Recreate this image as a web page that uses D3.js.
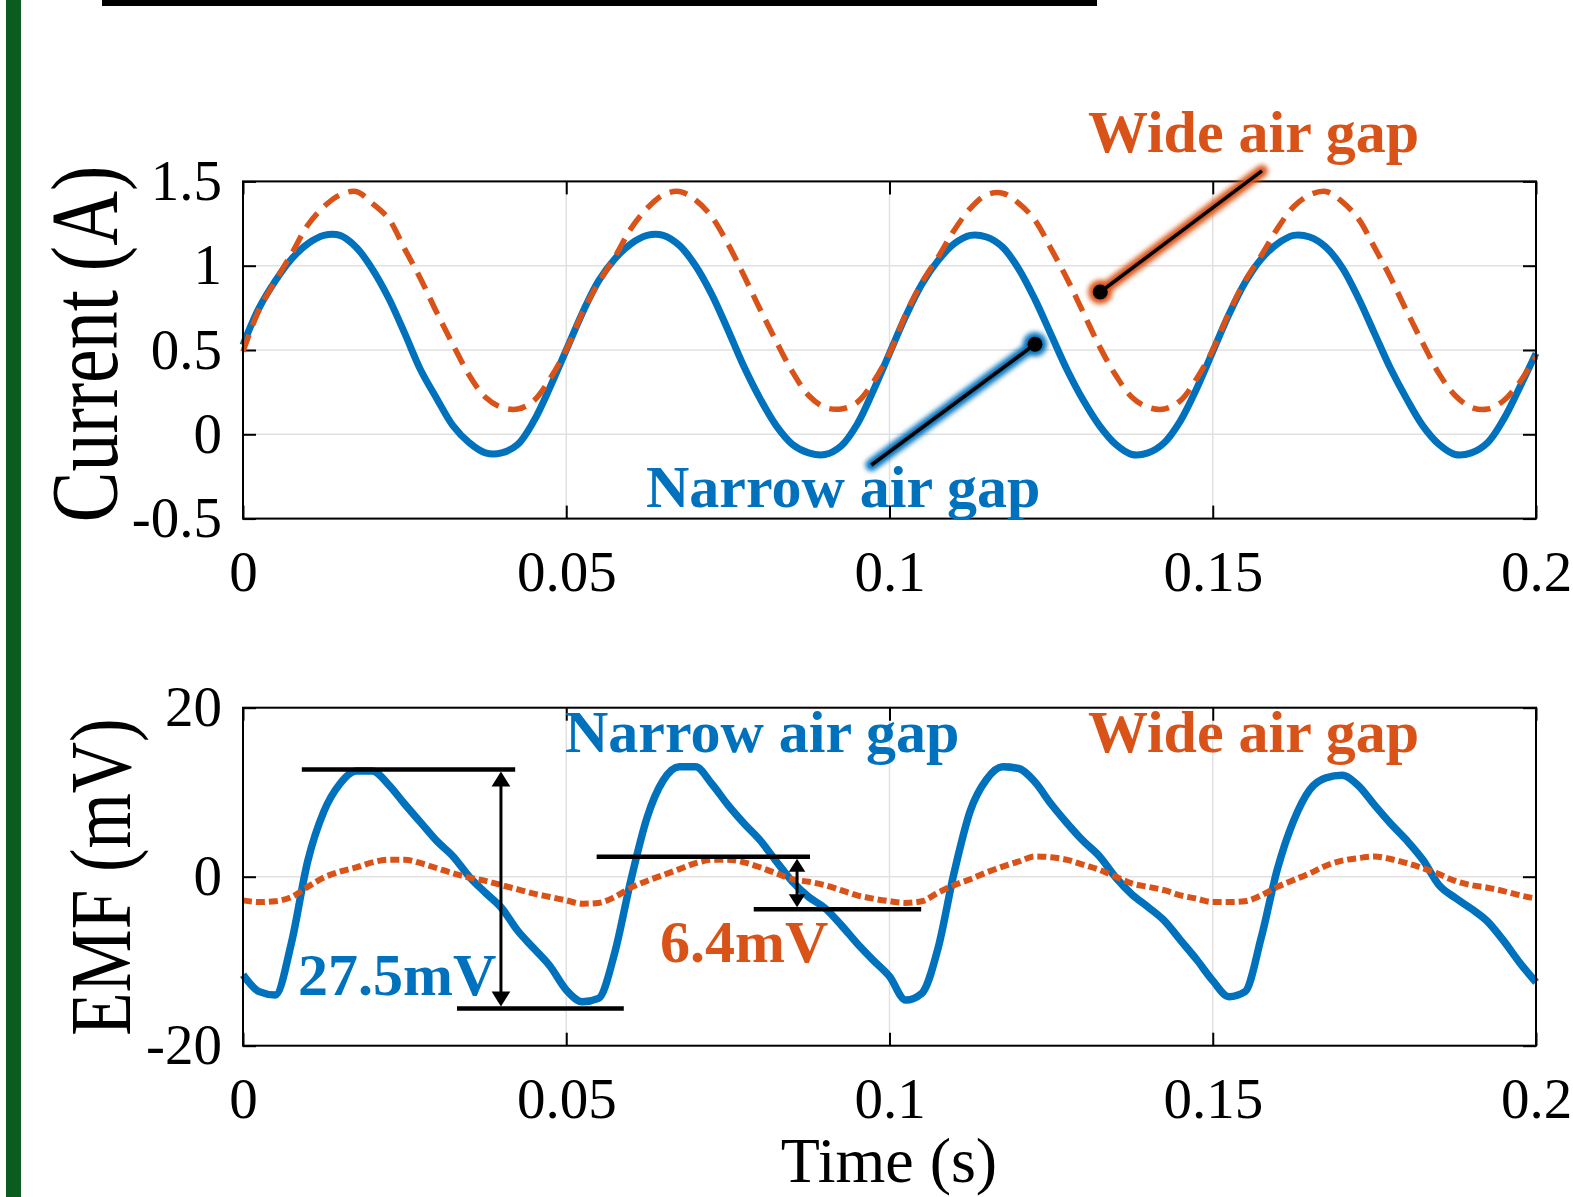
<!DOCTYPE html>
<html>
<head>
<meta charset="utf-8">
<script src="https://cdn.jsdelivr.net/npm/d3@7"></script>
<style>
  html, body { margin: 0; padding: 0; background: #fff; }
  svg { display: block; }
  .grid line { stroke: #e1e1e1; stroke-width: 1.5; }
  .axis line { stroke: #000; stroke-width: 2; }
  .axis text { font-family: "Liberation Serif", "Times New Roman", serif; font-size: 57px; fill: #000; }
  .box { fill: none; stroke: #000; stroke-width: 2; }
  .label { font-family: "Liberation Serif", "Times New Roman", serif; fill: #000; }
  .note { font-family: "Liberation Serif", "Times New Roman", serif; font-weight: bold; font-size: 60px; }
</style>
</head>
<body>
<svg id="chart"></svg>
<script>
'use strict';

// samples every 2.5 ms from 0 to 0.2 s
var tStep = 0.0025;

var currentNarrow = [
  0.53, 0.75, 0.91, 1.04, 1.13, 1.18, 1.18, 1.11, 0.98, 0.81,
  0.60, 0.38, 0.21, 0.05, -0.05, -0.11, -0.11, -0.06, 0.08, 0.28,
  0.50, 0.72, 0.91, 1.04, 1.13, 1.18, 1.18, 1.12, 1.00, 0.83,
  0.62, 0.40, 0.21, 0.05, -0.06, -0.11, -0.12, -0.07, 0.06, 0.26,
  0.48, 0.70, 0.89, 1.03, 1.13, 1.18, 1.17, 1.11, 0.98, 0.80,
  0.59, 0.38, 0.20, 0.05, -0.06, -0.12, -0.11, -0.05, 0.08, 0.27,
  0.49, 0.71, 0.90, 1.04, 1.13, 1.18, 1.17, 1.11, 0.99, 0.81,
  0.60, 0.39, 0.21, 0.05, -0.06, -0.12, -0.11, -0.05, 0.09, 0.28,
  0.48
];

var currentWide = [
  0.49, 0.74, 0.91, 1.07, 1.24, 1.35, 1.42, 1.44, 1.37, 1.28,
  1.10, 0.92, 0.72, 0.53, 0.35, 0.22, 0.16, 0.15, 0.20, 0.33,
  0.50, 0.72, 0.90, 1.05, 1.22, 1.34, 1.42, 1.44, 1.39, 1.29,
  1.13, 0.94, 0.74, 0.55, 0.37, 0.23, 0.16, 0.15, 0.19, 0.31,
  0.48, 0.71, 0.90, 1.05, 1.21, 1.34, 1.42, 1.43, 1.37, 1.27,
  1.10, 0.92, 0.72, 0.52, 0.35, 0.22, 0.16, 0.15, 0.20, 0.33,
  0.50, 0.72, 0.91, 1.06, 1.22, 1.35, 1.42, 1.44, 1.38, 1.28,
  1.11, 0.93, 0.73, 0.54, 0.36, 0.23, 0.16, 0.15, 0.20, 0.31,
  0.46
];

var emfNarrow = [
  -11.6, -13.6, -14.0, -7.8, 1.8, 7.7, 11.0, 12.5, 12.5, 10.9,
  8.6, 6.4, 4.2, 2.4, 0.0, -1.9, -3.7, -6.4, -8.5, -10.6,
  -13.4, -14.8, -14.4, -9.0, -0.4, 7.0, 11.4, 13.0, 13.0, 11.0,
  8.5, 6.3, 4.3, 1.8, -0.6, -2.4, -3.7, -5.7, -7.9, -9.9,
  -11.8, -14.6, -13.8, -8.5, 0.5, 7.8, 11.5, 13.0, 12.8, 11.2,
  8.6, 6.3, 4.2, 2.4, -0.1, -2.1, -3.6, -5.2, -7.5, -9.8,
  -12.3, -14.2, -13.6, -7.2, 0.9, 6.6, 10.3, 11.7, 12.0, 10.8,
  8.5, 6.3, 4.3, 2.0, -1.0, -2.5, -3.8, -5.3, -7.6, -10.2,
  -12.5
];

var emfWide = [
  -2.8, -3.0, -2.9, -2.4, -1.2, -0.1, 0.6, 1.1, 1.7, 2.0,
  2.0, 1.6, 1.0, 0.4, -0.1, -0.5, -1.0, -1.5, -2.0, -2.4,
  -2.8, -3.2, -3.1, -2.4, -1.3, -0.5, 0.2, 0.9, 1.6, 2.0,
  2.0, 1.7, 1.1, 0.4, -0.3, -0.6, -1.0, -1.6, -2.2, -2.6,
  -2.9, -3.1, -2.9, -1.9, -1.0, -0.3, 0.5, 1.2, 1.8, 2.4,
  2.3, 2.0, 1.4, 0.8, 0.0, -0.8, -1.2, -1.6, -2.2, -2.6,
  -3.0, -3.0, -2.9, -2.2, -1.2, -0.4, 0.4, 1.3, 1.9, 2.2,
  2.4, 2.1, 1.6, 1.0, 0.3, -0.5, -1.0, -1.3, -1.7, -2.2,
  -2.6
];

var xTicks = [0, 0.05, 0.1, 0.15, 0.2];
var xTickLabels = ['0', '0.05', '0.1', '0.15', '0.2'];
var currentTicks = [-0.5, 0, 0.5, 1, 1.5];
var currentTickLabels = ['-0.5', '0', '0.5', '1', '1.5'];
var emfTicks = [-20, 0, 20];
var emfTickLabels = ['-20', '0', '20'];

// callouts on the current plot: [time, current]
var currentCallouts = [
  {color: 'wide', dot: [0.1326, 0.844], end: [0.1576, 1.562]},
  {color: 'narrow', dot: [0.1225, 0.534], end: [0.0972, -0.182]}
];

// peak-to-peak markers on the EMF plot: levels in mV, extents in s
var emfSpans = [
  {hi: 12.7, lo: -15.6, hiFrom: 0.0091, hiTo: 0.0421, loFrom: 0.0331, loTo: 0.0589, at: 0.0399, head: 17},
  {hi: 2.35, lo: -3.85, hiFrom: 0.0547, hiTo: 0.0877, loFrom: 0.0790, loTo: 0.1049, at: 0.0857, head: 15}
];

var colors = {narrow: '#0072BD', wide: '#D95319'};
var width = 1573, height = 1197;
var left = 243, right = 1536;

var svg = d3.select('#chart').attr('width', width).attr('height', height);

svg.append('rect').attr('width', width).attr('height', height).attr('fill', '#fff');
svg.append('rect').attr('x', 6).attr('y', 0).attr('width', 15).attr('height', height).attr('fill', '#0b5c1f');
svg.append('rect').attr('x', 102).attr('y', 0).attr('width', 995).attr('height', 6).attr('fill', '#000');

var defs = svg.append('defs');
defs.append('filter')
  .attr('id', 'glow')
  .attr('x', '-50%').attr('y', '-50%').attr('width', '200%').attr('height', '200%')
  .append('feGaussianBlur')
  .attr('stdDeviation', 2.5);

function series(values) {
  return values.map(function (v, i) { return [i * tStep, v]; });
}

function panel(opts) {
  var x = d3.scaleLinear().domain([0, 0.2]).range([left, right]);
  var y = d3.scaleLinear().domain(opts.domain).range([opts.bottom, opts.top]);
  var g = svg.append('g');

  g.append('g').attr('class', 'grid')
    .selectAll('line').data(xTicks).enter().append('line')
    .attr('x1', function (d) { return x(d); })
    .attr('x2', function (d) { return x(d); })
    .attr('y1', opts.top).attr('y2', opts.bottom);
  g.append('g').attr('class', 'grid')
    .selectAll('line').data(opts.ticks).enter().append('line')
    .attr('x1', left).attr('x2', right)
    .attr('y1', function (d) { return y(d); })
    .attr('y2', function (d) { return y(d); });

  g.append('g').attr('class', 'axis')
    .attr('transform', 'translate(0,' + opts.bottom + ')')
    .call(d3.axisBottom(x).tickValues(xTicks).tickSize(-13).tickPadding(32)
      .tickFormat(function (d, i) { return xTickLabels[i]; }));
  g.append('g').attr('class', 'axis')
    .attr('transform', 'translate(0,' + opts.top + ')')
    .call(d3.axisTop(x).tickValues(xTicks).tickSize(-13).tickFormat(''));
  g.append('g').attr('class', 'axis')
    .attr('transform', 'translate(' + left + ',0)')
    .call(d3.axisLeft(y).tickValues(opts.ticks).tickSize(-13).tickPadding(21)
      .tickFormat(function (d, i) { return opts.labels[i]; }));
  g.append('g').attr('class', 'axis')
    .attr('transform', 'translate(' + right + ',0)')
    .call(d3.axisRight(y).tickValues(opts.ticks).tickSize(-13).tickFormat(''));
  g.selectAll('.axis .domain').remove();

  var line = d3.line()
    .x(function (d) { return x(d[0]); })
    .y(function (d) { return y(d[1]); })
    .curve(opts.curve);

  g.append('path')
    .datum(series(opts.narrow))
    .attr('d', line)
    .attr('fill', 'none')
    .attr('stroke', colors.narrow)
    .attr('stroke-width', opts.narrowWidth)
    .attr('stroke-linejoin', 'round');

  g.append('path')
    .datum(series(opts.wide))
    .attr('d', line)
    .attr('fill', 'none')
    .attr('stroke', colors.wide)
    .attr('stroke-width', opts.wideWidth)
    .attr('stroke-dasharray', opts.dash);

  g.append('rect').attr('class', 'box')
    .attr('x', left).attr('y', opts.top)
    .attr('width', right - left).attr('height', opts.bottom - opts.top);

  return {x: x, y: y, g: g};
}

function note(g, text, xPos, yPos, color) {
  g.append('text')
    .attr('class', 'note')
    .attr('x', xPos).attr('y', yPos)
    .attr('fill', color)
    .text(text);
}

// ---- current panel
var currentPanel = panel({
  domain: [-0.5, 1.5], top: 181.4, bottom: 518.6,
  ticks: currentTicks, labels: currentTickLabels,
  narrow: currentNarrow, wide: currentWide,
  narrowWidth: 7, wideWidth: 5.5, dash: '18,10',
  curve: d3.curveCatmullRom.alpha(0.5)
});

currentCallouts.forEach(function (c) {
  var p = currentPanel;
  var x1 = p.x(c.dot[0]), y1 = p.y(c.dot[1]);
  var x2 = p.x(c.end[0]), y2 = p.y(c.end[1]);
  var glow = p.g.append('g').attr('filter', 'url(#glow)');
  glow.append('line')
    .attr('x1', x1).attr('y1', y1).attr('x2', x2).attr('y2', y2)
    .attr('stroke', colors[c.color]).attr('stroke-width', 12).attr('stroke-linecap', 'round');
  glow.append('circle').attr('cx', x1).attr('cy', y1).attr('r', 12).attr('fill', colors[c.color]);
  p.g.append('line')
    .attr('x1', x1).attr('y1', y1).attr('x2', x2).attr('y2', y2)
    .attr('stroke', '#000').attr('stroke-width', 3.5);
  p.g.append('circle').attr('cx', x1).attr('cy', y1).attr('r', 7.5).attr('fill', '#000');
});

note(currentPanel.g, 'Wide air gap', 1088, 152, colors.wide);
note(currentPanel.g, 'Narrow air gap', 646, 507, colors.narrow);

// ---- EMF panel
var emfPanel = panel({
  domain: [-20, 20], top: 707.7, bottom: 1045.7,
  ticks: emfTicks, labels: emfTickLabels,
  narrow: emfNarrow, wide: emfWide,
  narrowWidth: 7.5, wideWidth: 6, dash: '9,4',
  curve: d3.curveMonotoneX
});

emfSpans.forEach(function (s) {
  var p = emfPanel;
  var yHi = p.y(s.hi), yLo = p.y(s.lo), xa = p.x(s.at), h = s.head, w = h * 0.55;
  p.g.append('line')
    .attr('x1', p.x(s.hiFrom)).attr('x2', p.x(s.hiTo)).attr('y1', yHi).attr('y2', yHi)
    .attr('stroke', '#000').attr('stroke-width', 4.5);
  p.g.append('line')
    .attr('x1', p.x(s.loFrom)).attr('x2', p.x(s.loTo)).attr('y1', yLo).attr('y2', yLo)
    .attr('stroke', '#000').attr('stroke-width', 4.5);
  p.g.append('line')
    .attr('x1', xa).attr('x2', xa).attr('y1', yHi + h - 2).attr('y2', yLo - h + 2)
    .attr('stroke', '#000').attr('stroke-width', 3);
  p.g.append('path')
    .attr('d', 'M' + xa + ',' + (yHi + 2) + 'L' + (xa - w) + ',' + (yHi + h) + 'L' + (xa + w) + ',' + (yHi + h) + 'Z')
    .attr('fill', '#000');
  p.g.append('path')
    .attr('d', 'M' + xa + ',' + (yLo - 2) + 'L' + (xa - w) + ',' + (yLo - h) + 'L' + (xa + w) + ',' + (yLo - h) + 'Z')
    .attr('fill', '#000');
});

note(emfPanel.g, 'Narrow air gap', 565, 752, colors.narrow);
note(emfPanel.g, 'Wide air gap', 1088, 752, colors.wide);
note(emfPanel.g, '27.5mV', 298, 995, colors.narrow);
note(emfPanel.g, '6.4mV', 660, 962, colors.wide);

// ---- axis titles
svg.append('text').attr('class', 'label')
  .attr('transform', 'translate(117,344) rotate(-90) scale(1,1.25)')
  .attr('text-anchor', 'middle').attr('font-size', 76)
  .text('Current (A)');
svg.append('text').attr('class', 'label')
  .attr('transform', 'translate(130,877) rotate(-90) scale(1,1.23)')
  .attr('text-anchor', 'middle').attr('font-size', 71)
  .text('EMF (mV)');
svg.append('text').attr('class', 'label')
  .attr('x', 889).attr('y', 1182)
  .attr('text-anchor', 'middle').attr('font-size', 64)
  .text('Time (s)');
</script>
</body>
</html>
